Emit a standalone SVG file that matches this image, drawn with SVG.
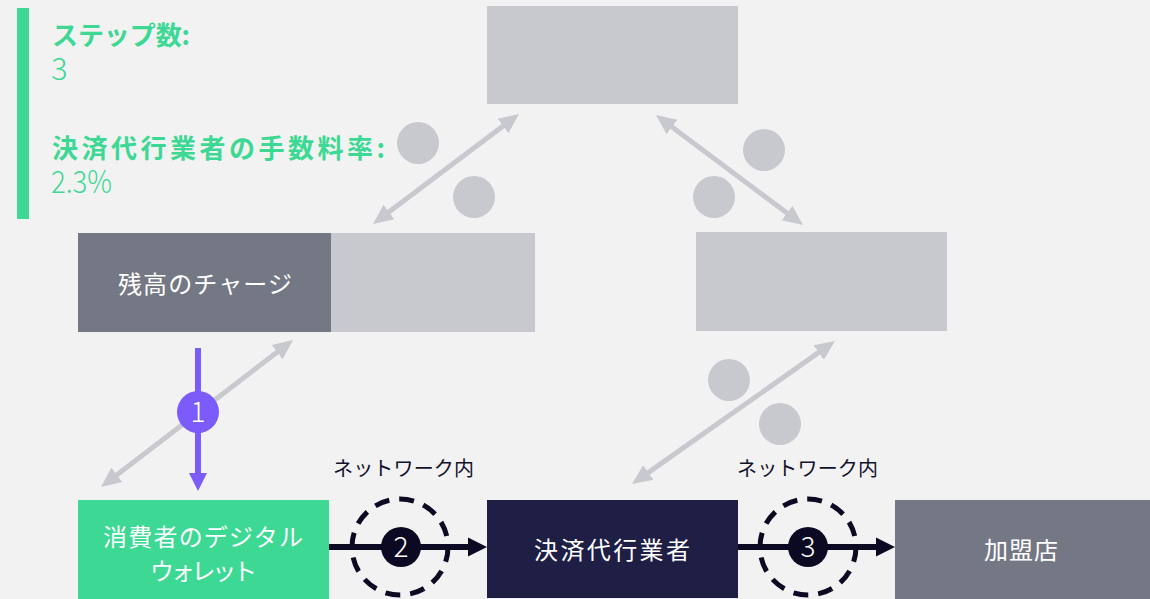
<svg xmlns="http://www.w3.org/2000/svg" width="1150" height="599" viewBox="0 0 1150 599">
<defs>
<style>
.jp{font-family:"Noto Sans CJK JP","Noto Sans",sans-serif}
.hdr{fill:#3cd894;font-size:26px;font-weight:700}
.val{fill:#3cd894;font-size:31px;font-weight:300}
.lbl{fill:#ffffff;font-size:24px;font-weight:400;text-anchor:middle}
.net{fill:#12112a;font-size:20px;font-weight:400}
.num{fill:#ffffff;font-size:28px;font-weight:300;text-anchor:middle}
.garr{stroke:#c8c9ce;stroke-width:5;fill:none;marker-start:url(#gh);marker-end:url(#gh)}
.dash{fill:none;stroke:#0c0a22;stroke-width:5;stroke-dasharray:15 10}
.flow{stroke:#0c0a22;stroke-width:6;fill:none}
.gray{fill:#c8c9ce}
</style>
<marker id="gh" viewBox="0 -10 22 20" refX="8" refY="0" markerWidth="22" markerHeight="20" markerUnits="userSpaceOnUse" orient="auto-start-reverse">
<path d="M0,-9 L20,0 L0,9 z" fill="#c8c9ce"/>
</marker>
</defs>
<rect width="1150" height="599" fill="#f2f2f2"/>

<g id="info">
<rect x="17" y="8" width="12" height="211" fill="#3cd894"/>
<text class="jp hdr" x="52" y="45" textLength="138" lengthAdjust="spacing">ステップ数:</text>
<text class="jp val" x="51" y="80">3</text>
<text class="jp hdr" x="52" y="158" textLength="333" lengthAdjust="spacing">決済代行業者の手数料率:</text>
<text class="jp val" x="51" y="193" textLength="61" lengthAdjust="spacingAndGlyphs">2.3%</text>
</g>

<g id="connectors">
<line class="garr" x1="382.6" y1="216.8" x2="509.4" y2="121.2"/>
<line class="garr" x1="665.6" y1="122.2" x2="793.4" y2="217.8"/>
<line class="garr" x1="110.5" y1="479.7" x2="283.5" y2="347.3"/>
<line class="garr" x1="641.8" y1="477.1" x2="825.2" y2="347.9"/>
<g id="step1">
<line x1="198" y1="348" x2="198" y2="475" stroke="#7b5cfb" stroke-width="6"/>
<polygon points="189,473 207,473 198,491" fill="#7b5cfb"/>
<circle cx="198" cy="412" r="21" fill="#7b5cfb"/>
<text class="jp num" x="198" y="422">1</text>
</g>
<g id="step2">
<line class="flow" x1="329" y1="547" x2="470" y2="547"/>
<polygon points="468,537.5 487,547 468,556.5" fill="#0c0a22"/>
<circle class="dash" cx="400" cy="547" r="48"/>
<circle cx="401" cy="547" r="20" fill="#0c0a22"/>
<text class="jp num" x="401" y="557">2</text>
</g>
<g id="step3">
<line class="flow" x1="723" y1="547" x2="878" y2="547"/>
<polygon points="876,537.5 895,547 876,556.5" fill="#0c0a22"/>
<circle class="dash" cx="808" cy="547" r="48"/>
<circle cx="808" cy="547" r="20" fill="#0c0a22"/>
<text class="jp num" x="808" y="557">3</text>
</g>
<text class="jp net" x="333" y="476" textLength="141" lengthAdjust="spacing">ネットワーク内</text>
<text class="jp net" x="737" y="476" textLength="141" lengthAdjust="spacing">ネットワーク内</text>
</g>

<g id="dots">
<circle class="gray" cx="418" cy="143" r="21"/>
<circle class="gray" cx="474" cy="197" r="21"/>
<circle class="gray" cx="764" cy="150" r="21"/>
<circle class="gray" cx="714" cy="197" r="21"/>
<circle class="gray" cx="729" cy="380" r="21"/>
<circle class="gray" cx="780" cy="424" r="21"/>
</g>

<g id="node-top"><rect x="487" y="6" width="251" height="98" fill="#c8c9ce"/></g>
<g id="node-charge">
<rect x="331" y="233" width="204" height="99" fill="#c8c9ce"/>
<rect x="78" y="233" width="253" height="99" fill="#747884"/>
<text class="jp lbl" x="205" y="293" textLength="174" lengthAdjust="spacing">残高のチャージ</text>
</g>
<g id="node-right"><rect x="696" y="232" width="251" height="99" fill="#c8c9ce"/></g>
<g id="node-wallet">
<rect x="78" y="500" width="251" height="99" fill="#3cd894"/>
<text class="jp lbl" x="203" y="546" textLength="200" lengthAdjust="spacing">消費者のデジタル</text>
<text class="jp lbl" x="203.5" y="580" textLength="107" lengthAdjust="spacing">ウォレット</text>
</g>
<g id="node-psp">
<rect x="487" y="500" width="251" height="98" fill="#1f1e45"/>
<text class="jp lbl" x="612" y="559" textLength="156" lengthAdjust="spacing">決済代行業者</text>
</g>
<g id="node-merchant">
<rect x="895" y="500" width="255" height="99" fill="#747884"/>
<text class="jp lbl" x="1021" y="559" textLength="74" lengthAdjust="spacing">加盟店</text>
</g>
</svg>
